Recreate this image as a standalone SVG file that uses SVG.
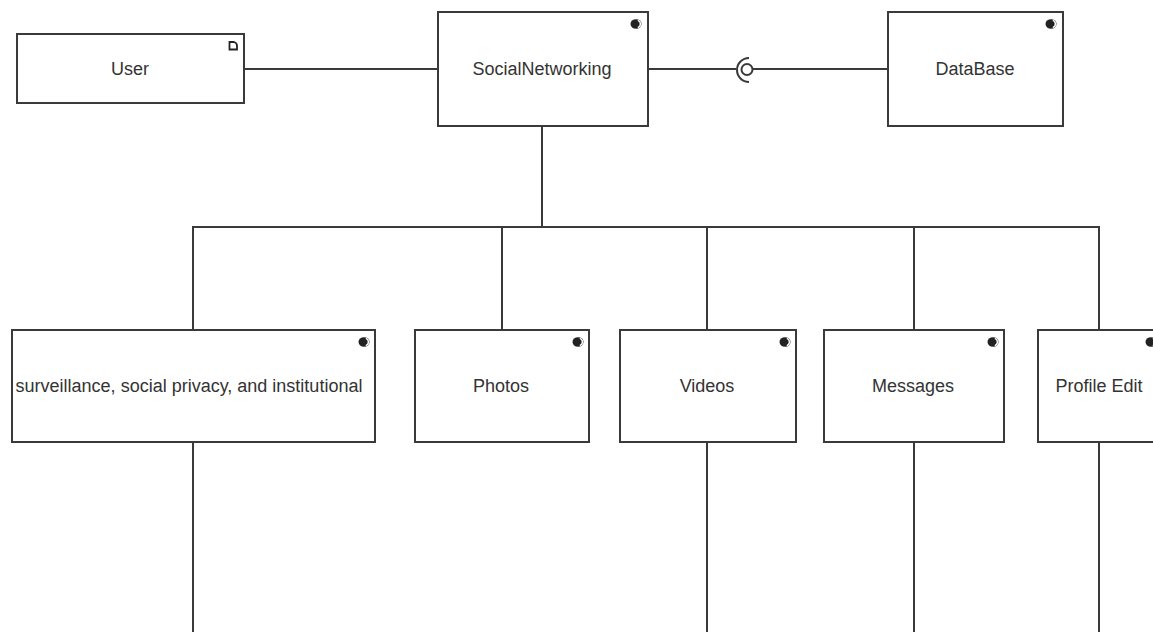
<svg xmlns="http://www.w3.org/2000/svg" width="1153" height="632" viewBox="0 0 1153 632">
  <style>
    .box { fill: #ffffff; stroke: #3a3a3a; stroke-width: 2; }
    .wire { fill: none; stroke: #3a3a3a; stroke-width: 2; }
    .label { font-family: "Liberation Sans", Arial, sans-serif; font-size: 18px; fill: #333333; text-anchor: middle; dominant-baseline: central; }
    .cicon { fill: #222222; }
  </style>
  <defs>
    <!-- component glyph: filled disc with a light slit on the right -->
    <g id="compIcon">
      <ellipse cx="0" cy="0" rx="5.5" ry="4.8" class="cicon"/>
      <path d="M1.8,-3.6 A3.8,3.8 0 0 1 1.8,3.6" fill="none" stroke="#ffffff" stroke-width="1.4"/>
    </g>
    <!-- artifact glyph: small outlined sheet with rounded corner -->
    <g id="artIcon">
      <path d="M-3.5,-4 L1,-4 A4,4 0 0 1 4,0 L4,3.5 L-3.5,3.5 Z" fill="#ffffff" stroke="#222222" stroke-width="1.8"/>
    </g>
  </defs>

  <rect width="1153" height="632" fill="#ffffff"/>

  <g id="connectors">
    <line class="wire" x1="244" y1="69" x2="438" y2="69"/>
    <line class="wire" x1="648" y1="69" x2="736" y2="69"/>
    <path class="wire" d="M749,58 A12,12 0 1 0 749,82"/>
    <circle cx="747" cy="69.5" r="5.5" fill="#ffffff" stroke="#3a3a3a" stroke-width="2"/>
    <line class="wire" x1="752.5" y1="69" x2="888" y2="69"/>
    <line class="wire" x1="542" y1="126" x2="542" y2="227"/>
    <line class="wire" x1="192" y1="227" x2="1100" y2="227"/>
    <line class="wire" x1="193" y1="227" x2="193" y2="330"/>
    <line class="wire" x1="502" y1="227" x2="502" y2="330"/>
    <line class="wire" x1="707" y1="227" x2="707" y2="330"/>
    <line class="wire" x1="914" y1="227" x2="914" y2="330"/>
    <line class="wire" x1="1099" y1="227" x2="1099" y2="330"/>
    <line class="wire" x1="193" y1="442" x2="193" y2="632"/>
    <line class="wire" x1="707" y1="442" x2="707" y2="632"/>
    <line class="wire" x1="914" y1="442" x2="914" y2="632"/>
    <line class="wire" x1="1099" y1="442" x2="1099" y2="632"/>
  </g>

  <g id="user">
    <rect class="box" x="17" y="34" width="227" height="69"/>
    <use href="#artIcon" x="233" y="46"/>
    <text class="label" x="130" y="69">User</text>
  </g>

  <g id="socialNetworking">
    <rect class="box" x="438" y="12" width="210" height="114"/>
    <use href="#compIcon" x="636" y="24"/>
    <text class="label" x="542" y="69">SocialNetworking</text>
  </g>

  <g id="database">
    <rect class="box" x="888" y="12" width="175" height="114"/>
    <use href="#compIcon" x="1051" y="24"/>
    <text class="label" x="975" y="69">DataBase</text>
  </g>

  <g id="privacy">
    <rect class="box" x="12" y="330" width="363" height="112"/>
    <use href="#compIcon" x="364" y="342"/>
    <text class="label" x="189" y="386">surveillance, social privacy, and institutional</text>
  </g>

  <g id="photos">
    <rect class="box" x="415" y="330" width="174" height="112"/>
    <use href="#compIcon" x="578" y="342"/>
    <text class="label" x="501" y="386">Photos</text>
  </g>

  <g id="videos">
    <rect class="box" x="620" y="330" width="176" height="112"/>
    <use href="#compIcon" x="785" y="342"/>
    <text class="label" x="707" y="386">Videos</text>
  </g>

  <g id="messages">
    <rect class="box" x="824" y="330" width="180" height="112"/>
    <use href="#compIcon" x="993" y="342"/>
    <text class="label" x="913" y="386">Messages</text>
  </g>

  <g id="profileEdit">
    <rect class="box" x="1038" y="330" width="130" height="112"/>
    <use href="#compIcon" x="1151" y="342"/>
    <text class="label" x="1099" y="386">Profile Edit</text>
  </g>
</svg>
